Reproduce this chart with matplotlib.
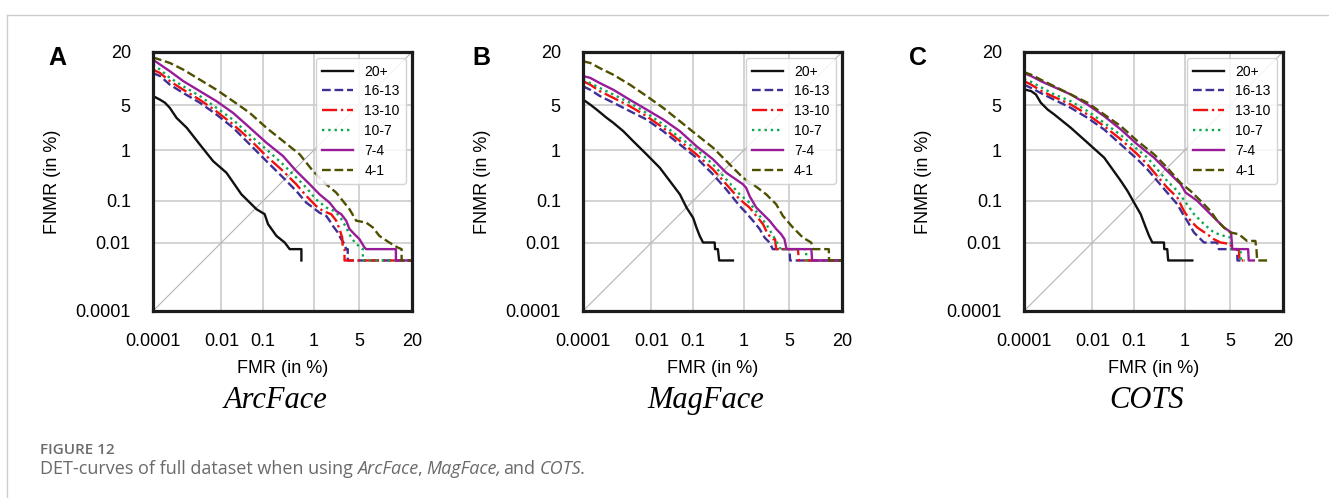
import math

import matplotlib
matplotlib.use("Agg")
import matplotlib.pyplot as plt
import numpy as np
from matplotlib.lines import Line2D

plt.rcParams["font.family"] = ["Liberation Sans", "DejaVu Sans"]

# DET curves as (FMR %, FNMR %) pairs, one list per age group and system
arc_20 = [(0.0001, 8.7), (0.0001, 6.6), (0.00017, 5.9), (0.00024, 5.4), (0.00034, 4.6), (0.00055, 3.3),
          (0.0011, 2.35), (0.0026, 1.26), (0.006, 0.64), (0.0134, 0.385), (0.0315, 0.139), (0.071, 0.065),
          (0.108, 0.05), (0.128, 0.029), (0.193, 0.0148), (0.285, 0.01), (0.358, 0.0067), (0.6, 0.0067),
          (0.6, 0.0033)]
arc_16 = [(0.0001, 12.3), (0.00017, 11.4), (0.00034, 9.1), (0.00087, 7.2), (0.0026, 5.4), (0.0074, 3.7),
          (0.0198, 2.35), (0.05, 1.26), (0.118, 0.64), (0.264, 0.31), (0.48, 0.164), (0.74, 0.091),
          (0.97, 0.071), (1.26, 0.054), (1.63, 0.0455), (1.85, 0.035), (2.09, 0.026), (2.49, 0.018),
          (2.8, 0.0122), (3.14, 0.0091), (3.32, 0.0067), (3.5, 0.0067), (3.5, 0.0033), (20, 0.0033)]
arc_13 = [(0.0001, 13.4), (0.00017, 12.3), (0.00034, 10.0), (0.00087, 7.9), (0.0026, 5.9), (0.0074, 4.1),
          (0.0198, 2.64), (0.05, 1.53), (0.118, 0.79), (0.264, 0.416), (0.48, 0.226), (0.74, 0.128),
          (1.1, 0.077), (1.44, 0.059), (1.96, 0.05), (2.35, 0.035), (2.64, 0.022), (2.9, 0.0134),
          (2.96, 0.0074), (3.14, 0.0067), (3.14, 0.0033), (20, 0.0033)]
arc_10 = [(0.0001, 15.1), (0.00017, 13.4), (0.00034, 10.9), (0.00087, 8.7), (0.0026, 6.6), (0.0074, 4.6),
          (0.0198, 3.1), (0.05, 1.8), (0.118, 1.04), (0.264, 0.556), (0.48, 0.31), (0.74, 0.192),
          (1.1, 0.108), (1.63, 0.071), (2.2, 0.059), (2.64, 0.0455), (3.32, 0.024), (3.92, 0.0134),
          (4.6, 0.0091), (5.4, 0.0074), (5.66, 0.0067), (5.66, 0.0033), (20, 0.0033)]
arc_7 = [(0.0001, 16.9), (0.00017, 15.1), (0.00034, 12.9), (0.00087, 10.0), (0.0026, 7.6), (0.0074, 5.65),
         (0.0198, 3.9), (0.05, 2.35), (0.118, 1.35), (0.264, 0.79), (0.48, 0.416), (0.85, 0.226),
         (1.26, 0.139), (1.85, 0.091), (2.35, 0.059), (2.8, 0.05), (3.32, 0.035), (3.71, 0.022),
         (4.36, 0.0163), (5.1, 0.0122), (5.95, 0.0074), (6.25, 0.0067), (13.9, 0.0067), (13.9, 0.0033),
         (20, 0.0033)]
arc_4 = [(0.0001, 17.8), (0.00034, 15.7), (0.00087, 13.4), (0.0026, 10.4), (0.0074, 7.9), (0.0198, 5.65),
         (0.05, 3.9), (0.118, 2.35), (0.264, 1.44), (0.556, 0.85), (0.97, 0.416), (1.63, 0.226),
         (2.35, 0.151), (2.96, 0.1), (3.71, 0.065), (4.6, 0.035), (6.25, 0.0315), (7.6, 0.024),
         (9.1, 0.0148), (11.8, 0.01), (14.5, 0.0074), (15.9, 0.0067), (15.9, 0.0033), (20, 0.0033)]

mag_20 = [(0.0001, 5.94), (0.00017, 5.1), (0.00027, 4.36), (0.00055, 3.32), (0.00087, 2.8), (0.0017, 2.08),
          (0.0032, 1.44), (0.0074, 0.85), (0.0163, 0.48), (0.0288, 0.264), (0.05, 0.139), (0.071, 0.071),
          (0.1, 0.041), (0.118, 0.024), (0.139, 0.0148), (0.164, 0.01), (0.285, 0.01), (0.29, 0.0067),
          (0.33, 0.0067), (0.35, 0.0033), (0.64, 0.0033)]
mag_16 = [(0.0001, 8.7), (0.00017, 7.9), (0.00034, 6.6), (0.00087, 5.4), (0.0026, 4.14), (0.0074, 3.14),
          (0.0198, 2.08), (0.05, 1.26), (0.118, 0.74), (0.264, 0.357), (0.48, 0.177), (0.85, 0.077),
          (1.1, 0.054), (1.44, 0.035), (1.85, 0.022), (2.22, 0.0134), (2.64, 0.01), (2.96, 0.0067),
          (5.1, 0.0067), (5.2, 0.0033), (20, 0.0033)]
mag_13 = [(0.0001, 10.0), (0.00017, 9.1), (0.00034, 7.6), (0.00087, 6.25), (0.0026, 4.85), (0.0074, 3.51),
          (0.0198, 2.35), (0.05, 1.44), (0.118, 0.85), (0.264, 0.447), (0.48, 0.226), (0.85, 0.108),
          (1.26, 0.071), (1.63, 0.0455), (2.09, 0.029), (2.49, 0.0163), (2.96, 0.0122), (3.2, 0.0122),
          (3.32, 0.0067), (6.57, 0.0067), (6.8, 0.0033), (20, 0.0033)]
mag_10 = [(0.0001, 10.4), (0.00017, 9.5), (0.00034, 8.3), (0.00087, 6.9), (0.0026, 5.4), (0.0074, 3.9),
          (0.0198, 2.64), (0.05, 1.63), (0.118, 1.04), (0.264, 0.556), (0.48, 0.285), (0.85, 0.139),
          (1.26, 0.091), (1.85, 0.0455), (2.35, 0.029), (2.8, 0.018), (3.32, 0.011), (3.71, 0.0074),
          (3.9, 0.0067), (8.3, 0.0067), (8.4, 0.0033), (20, 0.0033)]
mag_7 = [(0.0001, 11.4), (0.00017, 10.9), (0.00034, 9.5), (0.00087, 7.9), (0.0026, 5.9), (0.0074, 4.36),
         (0.0198, 3.14), (0.05, 2.08), (0.118, 1.18), (0.264, 0.69), (0.48, 0.385), (0.97, 0.226),
         (1.1, 0.192), (1.26, 0.128), (1.63, 0.071), (2.09, 0.05), (2.64, 0.035), (3.32, 0.022),
         (3.92, 0.0163), (4.36, 0.0122), (4.6, 0.0074), (4.7, 0.0067), (9.6, 0.0067), (9.8, 0.0033),
         (20, 0.0033)]
mag_4 = [(0.0001, 16.3), (0.00017, 15.7), (0.00034, 13.9), (0.00087, 11.8), (0.0026, 9.1), (0.0074, 6.6),
         (0.0198, 4.6), (0.05, 2.96), (0.118, 1.84), (0.264, 1.11), (0.556, 0.556), (0.97, 0.307),
         (1.44, 0.226), (2.35, 0.139), (3.32, 0.084), (4.14, 0.0455), (5.66, 0.024), (7.6, 0.0134),
         (9.56, 0.01), (10.0, 0.0067), (14.9, 0.0067), (15.0, 0.0033), (20, 0.0033)]

cots_20 = [(0.0001, 8.7), (0.0001, 8.0), (0.00017, 7.6), (0.00024, 6.9), (0.00034, 5.4), (0.00055, 4.36),
           (0.00087, 3.71), (0.0026, 2.35), (0.0074, 1.35), (0.0198, 0.74), (0.05, 0.264), (0.071, 0.164),
           (0.1, 0.091), (0.139, 0.05), (0.178, 0.024), (0.209, 0.0148), (0.244, 0.01), (0.416, 0.01),
           (0.42, 0.0067), (0.48, 0.0067), (0.5, 0.0033), (1.35, 0.0033)]
cots_16 = [(0.0001, 9.1), (0.00017, 8.3), (0.00034, 7.2), (0.00087, 5.9), (0.0026, 4.6), (0.0074, 3.32),
           (0.0198, 2.21), (0.05, 1.26), (0.118, 0.69), (0.193, 0.447), (0.307, 0.264), (0.48, 0.151),
           (0.74, 0.084), (0.97, 0.0455), (1.1, 0.035), (1.44, 0.018), (1.85, 0.0122), (2.09, 0.01),
           (3.32, 0.01), (3.51, 0.0067), (6.25, 0.0067), (6.3, 0.0033), (7.2, 0.0033)]
cots_13 = [(0.0001, 10.0), (0.00017, 9.1), (0.00034, 7.7), (0.00087, 6.4), (0.0026, 5.1), (0.0074, 3.71),
           (0.0198, 2.49), (0.05, 1.53), (0.118, 0.85), (0.193, 0.556), (0.307, 0.33), (0.48, 0.192),
           (0.74, 0.118), (0.97, 0.059), (1.26, 0.035), (1.63, 0.024), (2.35, 0.0163), (2.96, 0.0122),
           (3.71, 0.01), (5.1, 0.0091), (5.4, 0.0067), (6.57, 0.0067), (6.7, 0.0033), (7.5, 0.0033)]
cots_10 = [(0.0001, 10.4), (0.00017, 9.8), (0.00034, 8.5), (0.00087, 6.9), (0.0026, 5.65), (0.0074, 4.14),
           (0.0198, 2.8), (0.05, 1.8), (0.118, 1.04), (0.193, 0.74), (0.307, 0.447), (0.48, 0.264),
           (0.74, 0.164), (1.1, 0.084), (1.44, 0.05), (2.09, 0.029), (2.96, 0.018), (4.14, 0.0148),
           (5.1, 0.0134), (5.2, 0.0067), (6.9, 0.0067), (7.0, 0.0033), (7.8, 0.0033)]
cots_7 = [(0.0001, 12.3), (0.00017, 11.4), (0.00034, 10.0), (0.00087, 8.5), (0.0026, 6.9), (0.0074, 5.1),
          (0.0198, 3.51), (0.05, 2.21), (0.118, 1.26), (0.264, 0.74), (0.48, 0.416), (0.85, 0.226),
          (1.04, 0.151), (1.26, 0.128), (1.63, 0.1), (2.09, 0.071), (2.64, 0.05), (3.32, 0.035),
          (4.14, 0.024), (4.85, 0.0198), (5.2, 0.018), (5.4, 0.0067), (8.56, 0.0067), (8.7, 0.0033),
          (10.0, 0.0033)]
cots_4 = [(0.0001, 12.6), (0.00017, 11.8), (0.00034, 10.4), (0.00087, 8.7), (0.0026, 6.9), (0.0074, 5.4),
          (0.0198, 3.71), (0.05, 2.49), (0.118, 1.44), (0.264, 0.85), (0.48, 0.48), (0.85, 0.24),
          (1.26, 0.164), (1.85, 0.1), (2.64, 0.059), (3.32, 0.035), (4.14, 0.024), (5.1, 0.018),
          (6.57, 0.0163), (8.3, 0.011), (10.4, 0.011), (10.7, 0.0067), (10.9, 0.0033), (15.1, 0.0033)]

groups = ["20+", "16-13", "13-10", "10-7", "7-4", "4-1"]
colors = ["#111111", "#3d2f96", "#f01010", "#0aa84f", "#981b98", "#4f4f00"]
styles = ["-", "--", "-.", ":", "-", "--"]

tick_vals = [0.0001, 0.01, 0.1, 1, 5, 20]
tick_labels = ["0.0001", "0.01", "0.1", "1", "5", "20"]

W, H = 1329, 498


def probit(pct):
    """Normal quantile of a percentage (Acklam's rational approximation)."""
    p = np.clip(np.asarray(pct, dtype=float) / 100.0, 1e-12, 1 - 1e-12)
    a = [-3.969683028665376e+01, 2.209460984245205e+02, -2.759285104469687e+02,
         1.383577518672690e+02, -3.066479806614716e+01, 2.506628277459239e+00]
    b = [-5.447609879822406e+01, 1.615858368580409e+02, -1.556989798598866e+02,
         6.680131188771972e+01, -1.328068155288572e+01]
    c = [-7.784894002430293e-03, -3.223964580411365e-01, -2.400758277161838e+00,
         -2.549732539343734e+00, 4.374664141464968e+00, 2.938163982698783e+00]
    d = [7.784695709041462e-03, 3.224671290700398e-01, 2.445134137142996e+00,
         3.754408661907416e+00]
    lo = 0.02425

    def tail(q):
        return ((((((c[0] * q + c[1]) * q + c[2]) * q + c[3]) * q + c[4]) * q + c[5])
                / ((((d[0] * q + d[1]) * q + d[2]) * q + d[3]) * q + 1))

    q_lo = np.sqrt(-2 * np.log(p))
    q_hi = np.sqrt(-2 * np.log(1 - p))
    q = p - 0.5
    r = q * q
    mid = ((((((a[0] * r + a[1]) * r + a[2]) * r + a[3]) * r + a[4]) * r + a[5]) * q
           / (((((b[0] * r + b[1]) * r + b[2]) * r + b[3]) * r + b[4]) * r + 1))
    return np.where(p < lo, tail(q_lo), np.where(p > 1 - lo, -tail(q_hi), mid))


def inv_probit(z):
    z = np.asarray(z, dtype=float)
    return 50.0 * np.vectorize(math.erfc)(-z / math.sqrt(2))


def put_runs(fig, x_px, y_px, runs, **kw):
    renderer = fig.canvas.get_renderer()
    for text, style, gap in runs:
        t = fig.text(x_px / W, 1 - y_px / H, text, style=style, va="center", **kw)
        x_px = t.get_window_extent(renderer=renderer).x1 + gap


fig = plt.figure(figsize=(W / 100, H / 100), dpi=100)

panels = [
    ("A", "ArcFace", [arc_20, arc_16, arc_13, arc_10, arc_7, arc_4], 153, 57),
    ("B", "MagFace", [mag_20, mag_16, mag_13, mag_10, mag_7, mag_4], 583, 481),
    ("C", "COTS", [cots_20, cots_16, cots_13, cots_10, cots_7, cots_4], 1024, 918),
]

for letter, system, curves, left_px, letter_px in panels:
    ax = fig.add_axes([left_px / W, 1 - 311 / H, 259 / W, 259 / H])
    ax.set_xscale("function", functions=(probit, inv_probit))
    ax.set_yscale("function", functions=(probit, inv_probit))
    ax.set_xlim(0.0001, 20)
    ax.set_ylim(0.0001, 20)
    ax.set_xticks(tick_vals, tick_labels)
    ax.set_yticks(tick_vals, tick_labels)
    ax.minorticks_off()
    ax.tick_params(length=0, pad=16, labelsize=13)
    ax.grid(True, color="#cccccc", lw=1.2)
    ax.set_axisbelow(True)
    for sp in ax.spines.values():
        sp.set_linewidth(2.3)
        sp.set_color("#1c1c1c")

    ax.plot([0.0001, 20], [0.0001, 20], color="#b4b4b4", lw=0.8, zorder=1.5)
    for pts, name, col, ls in zip(curves, groups, colors, styles):
        fmr = [p[0] for p in pts]
        fnmr = [p[1] for p in pts]
        ax.plot(fmr, fnmr, color=col, ls=ls, lw=1.7, label=name)

    ax.legend(loc="upper right", fontsize=10, handlelength=2.2, labelspacing=0.42,
              borderaxespad=0.45, borderpad=0.45, edgecolor="#cccccc", framealpha=0.85)
    ax.set_xlabel("FMR (in %)", fontsize=13)
    ax.set_ylabel("FNMR (in %)", fontsize=13)
    ax.xaxis.set_label_coords(0.5, -0.19)
    ax.yaxis.set_label_coords(-0.355, 0.5)

    fig.text(letter_px / W, 1 - 58 / H, letter, fontsize=18, fontweight="bold",
             ha="center", va="center")
    fig.text((left_px + 123) / W, 1 - 400 / H, system, fontsize=22, style="italic",
             family="Liberation Serif", ha="center", va="center")

# caption block under the panels
fig.add_artist(Line2D([7 / W, 1], [1 - 15 / H, 1 - 15 / H], color="#cccccc", lw=1,
                      transform=fig.transFigure))
fig.add_artist(Line2D([7 / W, 7 / W], [1 - 15 / H, 0], color="#cccccc", lw=1,
                      transform=fig.transFigure))
fig.text(40 / W, 1 - 450 / H, "FIGURE 12", fontsize=11, fontweight="semibold",
         family=["Open Sans", "DejaVu Sans"], color="#6c6c6c", va="center")
space = 4.6
put_runs(fig, 40, 469, [
    ("DET-curves of full dataset when using", "normal", space),
    ("ArcFace", "italic", -1.5),
    (",", "normal", space),
    ("MagFace,", "italic", 1.5),
    ("and", "normal", space),
    ("COTS", "italic", -1.5),
    (".", "normal", 0),
], fontsize=13, family=["Open Sans", "DejaVu Sans"], color="#6a6a6a")

fig.savefig("out.png", dpi=100)
